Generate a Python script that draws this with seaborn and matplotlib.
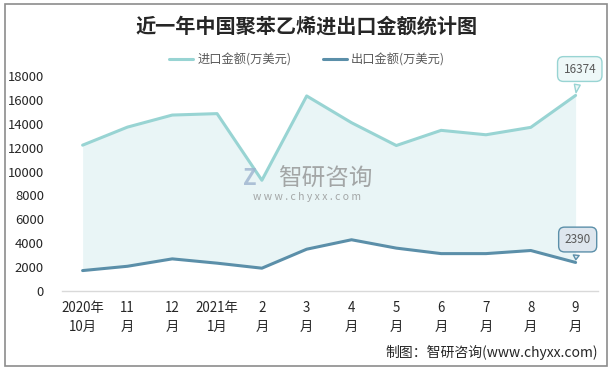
import matplotlib.pyplot as plt
import matplotlib.patches as mpatches
import numpy as np
import seaborn as sns

months = ['2020年\n10月', '11\n月', '12\n月', '2021年\n1月', '2\n月', '3\n月',
          '4\n月', '5\n月', '6\n月', '7\n月', '8\n月', '9\n月']
imports = [12210, 13720, 14730, 14850, 9270, 16330, 14090, 12180, 13450, 13080, 13700, 16374]
exports = [1710, 2070, 2690, 2330, 1910, 3500, 4290, 3590, 3130, 3130, 3390, 2390]
yticks = list(range(0, 18001, 2000))

sns.set_theme(style='white')
plt.rcParams['font.family'] = ['Noto Sans CJK SC', 'DejaVu Sans']

c_imp = '#98D4D3'
c_exp = '#5B8FA9'

fig = plt.figure(figsize=(6.14, 3.70), dpi=100)
ax = fig.add_axes([62 / 614, 1 - 291 / 370, (598 - 62) / 614, (291 - 76) / 370])
x = np.arange(len(months))

ax.fill_between(x, exports, imports, color='#E9F5F6', lw=0)
sns.lineplot(x=x, y=imports, ax=ax, color=c_imp, lw=2.2, label='进口金额(万美元)')
sns.lineplot(x=x, y=exports, ax=ax, color=c_exp, lw=2.2, label='出口金额(万美元)')

ax.set_xlim(-0.46, 11.5)
ax.set_ylim(0, 18000)
ax.set_yticks(yticks)
ax.set_yticklabels([str(v) for v in yticks])
ax.set_xticks(x)
ax.set_xticklabels(months, linespacing=1.45)
ax.tick_params(axis='y', length=0, pad=13, labelsize=9.4, labelcolor='#262626')
ax.tick_params(axis='x', length=0, pad=7, labelsize=9.6, labelcolor='#262626')
for s in ['top', 'right', 'left']:
    ax.spines[s].set_visible(False)
ax.spines['bottom'].set_color('#D9D9D9')
ax.spines['bottom'].set_linewidth(1)
ax.set_xlabel('')
ax.set_ylabel('')

leg = ax.legend(loc='center', bbox_to_anchor=(0.5, 1 - 60 / 370), bbox_transform=fig.transFigure,
                ncol=2, frameon=False, fontsize=8.8, handlelength=2.0, columnspacing=2.6,
                handletextpad=0.3)
for t in leg.get_texts():
    t.set_color('#595959')

# callouts for last values
ax.annotate(str(imports[-1]), xy=(x[-1], imports[-1]), xytext=(3, 19), textcoords='offset points',
            ha='center', va='center', fontsize=8.5, color='#595959', annotation_clip=False,
            bbox=dict(boxstyle='round,pad=0.5', fc='#EEF8F8', ec=c_imp, lw=1),
            arrowprops=dict(arrowstyle='wedge,tail_width=0.5,shrink_factor=0.5', fc='#EEF8F8', ec=c_imp, lw=1))
ax.annotate(str(exports[-1]), xy=(x[-1], exports[-1]), xytext=(1.5, 16.5), textcoords='offset points',
            ha='center', va='center', fontsize=8.5, color='#595959', annotation_clip=False,
            bbox=dict(boxstyle='round,pad=0.5', fc='#DEE6EE', ec=c_exp, lw=1),
            arrowprops=dict(arrowstyle='wedge,tail_width=0.5,shrink_factor=0.5', fc='#DEE6EE', ec=c_exp, lw=1))

fig.text(0.5, 1 - 26 / 370, '近一年中国聚苯乙烯进出口金额统计图', ha='center', va='center',
         fontsize=14.5, fontweight='bold', color='#262626')

# watermark
fig.text(325 / 614, 1 - 179 / 370, '智研咨询', ha='center', va='center', fontsize=17,
         color='#8C8C8C', alpha=0.75)
fig.text(307 / 614, 1 - 197 / 370, 'w w w . c h y x x . c o m', ha='center', va='center', fontsize=7.5,
         color='#8C8C8C', alpha=0.75)
fig.text(250 / 614, 1 - 179 / 370, 'Z', ha='center', va='center', fontsize=16, fontweight='bold',
         color='#9DB3CF', alpha=0.8)

fig.text(598 / 614, 1 - 352 / 370, '制图：智研咨询(www.chyxx.com)', ha='right', va='center',
         fontsize=10, color='#262626')

fig.patches.append(mpatches.Rectangle((5 / 614, 4 / 370), 602 / 614, 362 / 370, transform=fig.transFigure,
                                      fill=False, ec='#8C8C8C', lw=1.2))

fig.savefig('out.png', dpi=100)
